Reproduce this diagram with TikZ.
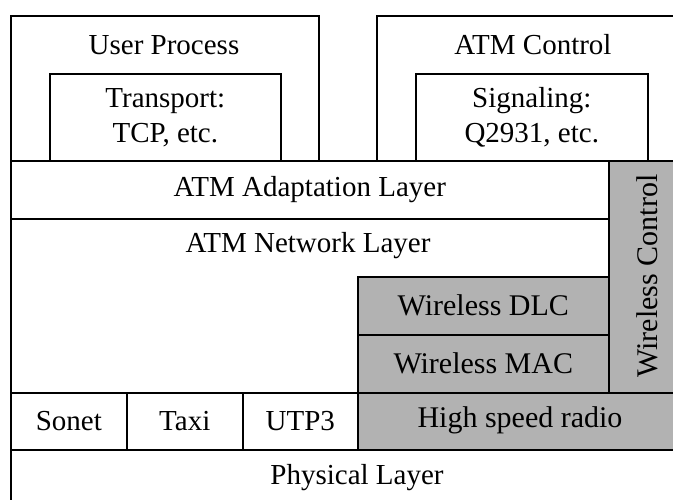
\documentclass[tikz,border=0pt]{standalone}
\usepackage{fontspec}
\setmainfont{Liberation Serif}
\tikzset{
  layer/.style={draw=black, line width=1.6pt, inner sep=0pt, anchor=north west,
    font=\fontsize{29}{35}\selectfont, align=center},
  radio/.style={layer, fill=black!30},
  label/.style={inner sep=0pt, font=\fontsize{29}{35}\selectfont, align=center}
}
\begin{document}
\begin{tikzpicture}[x=1pt,y=-1pt]
\useasboundingbox (0,0) rectangle (673,499);
\clip (0,0) rectangle (673,499);
\fill[white] (0,0) rectangle (673,499);
% application level: user side and control side
\node[layer, minimum width=308pt, minimum height=145pt] (user) at (10,15) {};
\node[label] (userlbl) at (164,45) {User Process};
\node[layer, minimum width=231pt, minimum height=87pt] (tcp) at (49,73) {Transport:\\TCP, etc.};
\node[layer, minimum width=314pt, minimum height=145pt] (ctrl) at (376,15) {};
\node[label] (ctrllbl) at (533,45) {ATM Control};
\node[layer, minimum width=232pt, minimum height=87pt] (sig) at (415,73) {Signaling:\\Q2931, etc.};
% ATM layers
\node[layer, minimum width=598pt, minimum height=58pt] (aal) at (10,160) {ATM Adaptation Layer};
\node[layer, minimum width=598pt, minimum height=174pt] (net) at (10,218) {};
\node[label] (netlbl) at (308,246) {ATM Network Layer};
% wireless extensions
\node[radio, minimum width=251pt, minimum height=58pt] (dlc) at (357,276) {\fontsize{30}{35}\selectfont Wireless DLC};
\node[radio, minimum width=251pt, minimum height=58pt] (mac) at (357,334) {\fontsize{30}{35}\selectfont Wireless MAC};
\node[radio, minimum width=82pt, minimum height=232pt] (wctl) at (608,160) {};
\node[label, rotate=90, font=\fontsize{30}{35}\selectfont] (wctllbl) at (647,276) {Wireless Control};
% physical media
\node[layer, minimum width=116pt, minimum height=57pt] (sonet) at (10,392) {Sonet};
\node[layer, minimum width=116pt, minimum height=57pt] (taxi) at (126,392) {Taxi};
\node[layer, minimum width=115pt, minimum height=57pt] (utp) at (242,392) {UTP3};
\node[radio, minimum width=333pt, minimum height=57pt] (hsr) at (357,392) {};
\node[label, font=\fontsize{30}{35}\selectfont] (hsrlbl) at (520,420) {High speed radio};
\node[layer, minimum width=680pt, minimum height=80pt] (phy) at (10,449) {};
\node[label] (phylbl) at (357,478) {Physical Layer};
\end{tikzpicture}
\end{document}
